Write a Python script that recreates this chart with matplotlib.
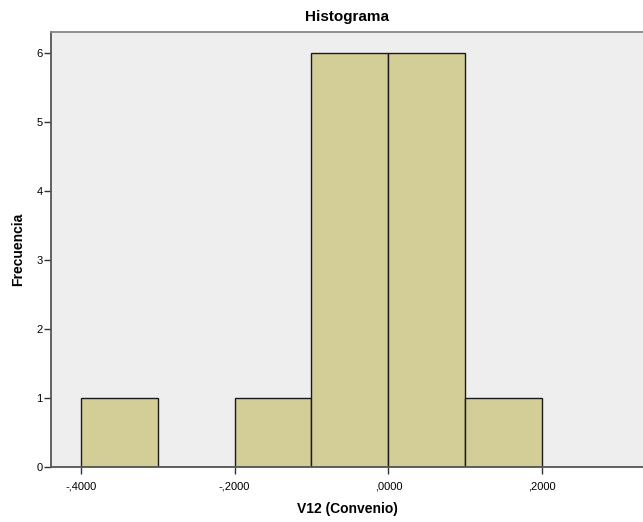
import matplotlib
matplotlib.use("Agg")
import matplotlib.pyplot as plt

plt.rcParams['font.family'] = ['Liberation Sans', 'DejaVu Sans']

# Histogram bins (left edges), bin width and frequencies
bin_lefts = [-0.4, -0.3, -0.2, -0.1, 0.0, 0.1]
bin_width = 0.1
counts = [1, 0, 1, 6, 6, 1]

x_ticks = [-0.4, -0.2, 0.0, 0.2]
x_tick_labels = ["-,4000", "-,2000", ",0000", ",2000"]
y_ticks = [0, 1, 2, 3, 4, 5, 6]

fig = plt.figure(figsize=(6.43, 5.22), dpi=100)
ax = fig.add_axes([51 / 643, 55.3 / 522, 1 - 51 / 643, (466.7 - 31.7) / 522])
ax.set_facecolor('#EEEEEE')

ax.bar(bin_lefts, counts, width=bin_width, align='edge',
       color='#D3CE97', edgecolor='#1a1a1a', linewidth=1.0, zorder=2)

ax.set_xlim(-0.4386, 0.331)
ax.set_ylim(0, 6.31)
ax.set_xticks(x_ticks)
ax.set_xticklabels(x_tick_labels)
ax.set_yticks(y_ticks)

for side in ['left', 'bottom', 'top']:
    ax.spines[side].set_color('#555555')
    ax.spines[side].set_linewidth(1.3)
ax.spines['top'].set_color('#888888')
ax.spines['right'].set_visible(False)

ax.tick_params(axis='both', direction='out', length=5, width=1.0,
               color='#333333', labelsize=8)
ax.tick_params(axis='x', pad=6)
ax.tick_params(axis='y', pad=1)

ax.set_title('Histograma', fontsize=11, fontweight='bold', pad=8)
ax.set_xlabel('V12 (Convenio)', fontsize=10, fontweight='bold', labelpad=7)
ax.set_ylabel('Frecuencia', fontsize=10, fontweight='bold', labelpad=8)

fig.savefig('out.png', dpi=100, facecolor='white')
